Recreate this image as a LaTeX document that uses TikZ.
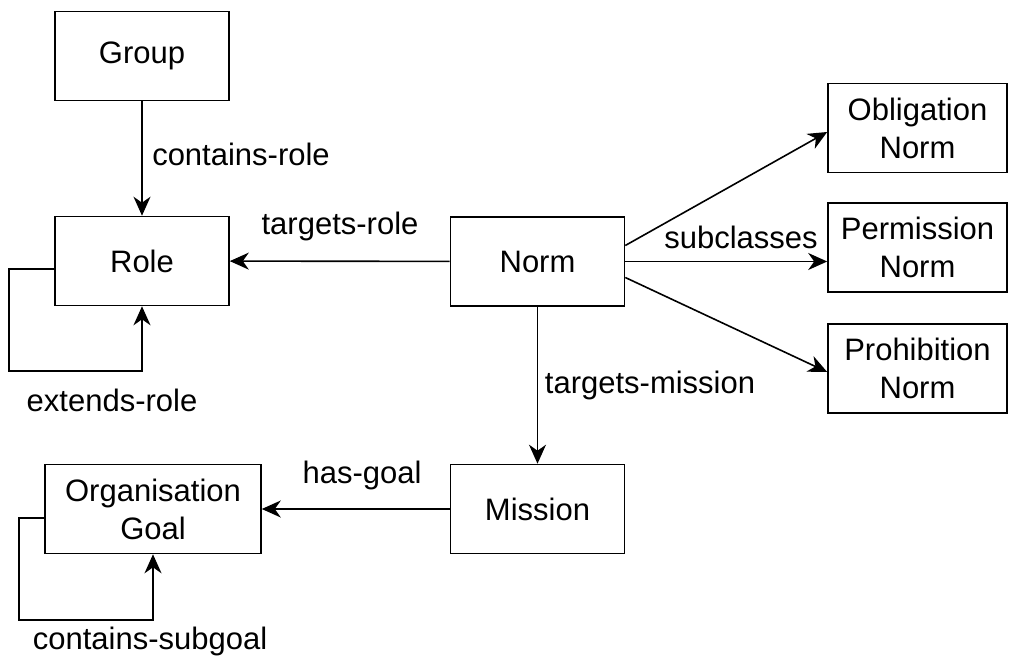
\documentclass[tikz,border=0pt]{standalone}
\usepackage{fontspec}
\setmainfont{Liberation Sans}
\usetikzlibrary{arrows.meta}
\tikzset{
	box/.style={draw, line width=1.6pt, minimum width=174pt, minimum height=89pt, align=center, inner sep=0pt},
	widebox/.style={box, minimum width=216pt},
	normbox/.style={box, minimum width=179pt},
	link/.style={line width=1.6pt, -{Stealth[length=19pt, width=17pt, inset=6pt]}},
	lbl/.style={inner sep=0pt}
}

\begin{document}
\begin{tikzpicture}[x=1pt, y=-1pt, font=\fontsize{31}{38}\selectfont]
			%%%%% START %%%%%
			\useasboundingbox (0, 0) rectangle (1009, 660);
			
			\node[box] (group) at (142, 56) {Group};
			\node[box] (role) at (142, 261) {Role};
			\node[box] (norm) at (537.5, 261.5) {Norm};
			\node[box] (mission) at (537.5, 509) {Mission};
			\node[widebox] (goal) at (153, 509) {Organisation\\Goal};
			
			\node[normbox] (oblig) at (917.5, 128) {Obligation\\Norm};
			\node[normbox] (perm) at (917.5, 247.5) {Permission\\Norm};
			\node[normbox] (prohib) at (917.5, 368.5) {Prohibition\\Norm};
			
			\draw[link] (group) -- (role);
			\node[lbl] (containsrole) at (241, 154) {contains-role};
			
			\draw[link] ([yshift=-8pt]role.west) -- ++(-45, 0) -- ++(0, 102) -| (role.south);
			\node[lbl] (extendsrole) at (112, 400) {extends-role};
			
			\draw[link] (norm) -- (role);
			\node[lbl] (targetsrole) at (340, 226) {targets-role};
			
			\draw[link] ([yshift=16pt]norm.east) -- ([yshift=-4pt]oblig.west);
			\draw[link] (norm.east) -- (norm.east -| perm.west);
			\draw[link] ([yshift=-16pt]norm.east) -- ([yshift=-3.5pt]prohib.west);
			\node[lbl] (subclasses) at (741, 237) {subclasses};
			
			\draw[link] (norm) -- (mission);
			\node[lbl] (targetsmission) at (650, 385) {targets-mission};
			
			\draw[link] (mission) -- (goal);
			\node[lbl] (hasgoal) at (362, 475) {has-goal};
			
			\draw[link] ([yshift=-9pt]goal.west) -- ++(-25, 0) -- ++(0, 102) -| (goal.south);
			\node[lbl] (containssubgoal) at (150, 641) {contains-subgoal};
			
			%%%%% END %%%%%
\end{tikzpicture}
\end{document}
